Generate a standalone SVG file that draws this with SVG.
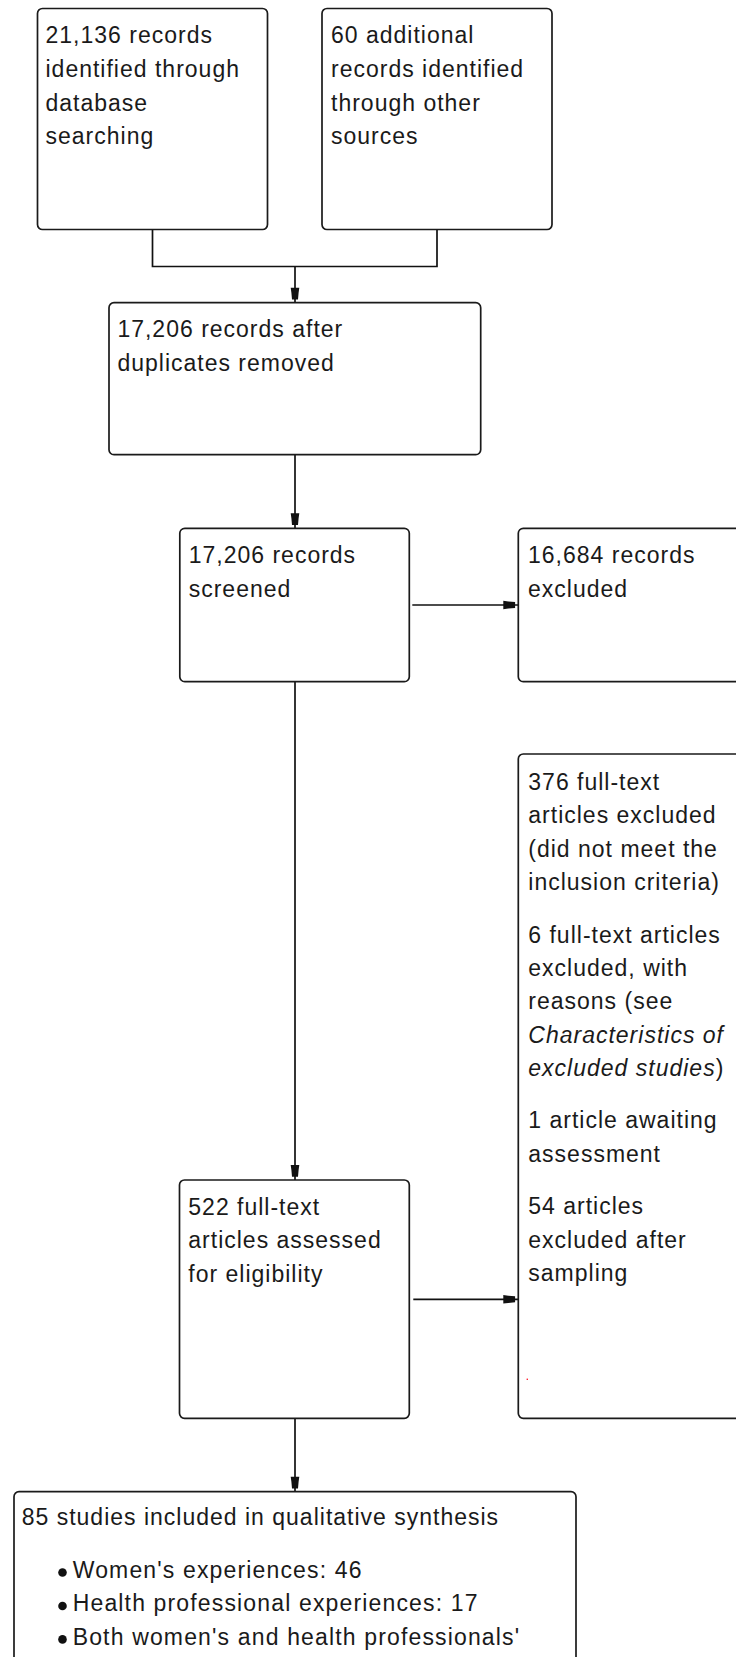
<svg xmlns="http://www.w3.org/2000/svg" width="736" height="1657" viewBox="0 0 736 1657">
<style>
.box{fill:#fff;stroke:#1a1a1a;stroke-width:1.7}
.t{font-family:"Liberation Sans",Arial,sans-serif;font-size:23px;letter-spacing:1px;fill:#1a1a1a}
.b{letter-spacing:1.15px}
.i{font-style:italic}
.ln{fill:none;stroke:#111;stroke-width:1.7}
</style>
<defs>
<marker id="ah" markerUnits="userSpaceOnUse" orient="auto" refX="0" refY="0" markerWidth="20" markerHeight="20" viewBox="-20 -10 20 20" overflow="visible">
<path d="M-15,-4.3 L-10,-3.6 L-3.2,-3 L-3.2,3 L-10,3.6 L-15,4.3 Z" fill="#111"/>
</marker>
</defs>
<g id="connectors">
<path class="ln" d="M152.5,229.5 V266.5 H437 V229.5"/>
<path class="ln" d="M295,266.5 V302.7" marker-end="url(#ah)"/>
<path class="ln" d="M295,454.7 V528.3" marker-end="url(#ah)"/>
<path class="ln" d="M412.3,605 H518.3" marker-end="url(#ah)"/>
<path class="ln" d="M295,681.7 V1180" marker-end="url(#ah)"/>
<path class="ln" d="M413.3,1299.3 H518.3" marker-end="url(#ah)"/>
<path class="ln" d="M295,1418.3 V1491.7" marker-end="url(#ah)"/>
</g>
<g id="node-db">
<rect class="box" x="37.5" y="8.5" width="230" height="221" rx="5"/>
<text class="t"><tspan x="45.5" y="43.3">21,136 records</tspan><tspan x="45.5" y="77">identified through</tspan><tspan x="45.5" y="110.7">database</tspan><tspan x="45.5" y="144.4">searching</tspan></text>
</g>
<g id="node-other">
<rect class="box" x="322" y="8.5" width="230" height="221" rx="5"/>
<text class="t"><tspan x="331" y="43.3">60 additional</tspan><tspan x="331" y="77">records identified</tspan><tspan x="331" y="110.7">through other</tspan><tspan x="331" y="144.4">sources</tspan></text>
</g>
<g id="node-dedup">
<rect class="box" x="109" y="302.7" width="371.7" height="152" rx="5"/>
<text class="t"><tspan x="117.4" y="337.3">17,206 records after</tspan><tspan x="117.4" y="370.7">duplicates removed</tspan></text>
</g>
<g id="node-screened">
<rect class="box" x="179.8" y="528.3" width="229.5" height="153.4" rx="5"/>
<text class="t"><tspan x="188.7" y="563.3">17,206 records</tspan><tspan x="188.7" y="596.7">screened</tspan></text>
</g>
<g id="node-excluded">
<rect class="box" x="518.3" y="528.3" width="240" height="153.4" rx="5"/>
<text class="t"><tspan x="528" y="563.3">16,684 records</tspan><tspan x="528" y="596.7">excluded</tspan></text>
</g>
<g id="node-fulltext-excluded">
<rect class="box" x="518.3" y="754" width="240" height="664.3" rx="5"/>
<text class="t">
<tspan x="528.3" y="790">376 full-text</tspan>
<tspan x="528.3" y="823.4">articles excluded</tspan>
<tspan x="528.3" y="856.8">(did not meet the</tspan>
<tspan x="528.3" y="890.2">inclusion criteria)</tspan>
<tspan x="528.3" y="942.5">6 full-text articles</tspan>
<tspan x="528.3" y="975.9">excluded, with</tspan>
<tspan x="528.3" y="1009.3">reasons (see</tspan>
<tspan x="528.3" y="1042.7" class="i">Characteristics of</tspan>
<tspan x="528.3" y="1076.1" class="i">excluded studies</tspan><tspan>)</tspan>
<tspan x="528.3" y="1128.4">1 article awaiting</tspan>
<tspan x="528.3" y="1161.8">assessment</tspan>
<tspan x="528.3" y="1214.1">54 articles</tspan>
<tspan x="528.3" y="1247.5">excluded after</tspan>
<tspan x="528.3" y="1280.9">sampling</tspan>
</text>
<rect x="526.6" y="1378.6" width="1.4" height="1.4" fill="#f23"/>
</g>
<g id="node-assessed">
<rect class="box" x="179.5" y="1180" width="229.8" height="238.3" rx="5"/>
<text class="t"><tspan x="188.3" y="1215">522 full-text</tspan><tspan x="188.3" y="1248.3">articles assessed</tspan><tspan x="188.3" y="1281.7">for eligibility</tspan></text>
</g>
<g id="node-included">
<rect class="box" x="14" y="1491.7" width="562" height="220" rx="5"/>
<text class="t"><tspan x="21.7" y="1525">85 studies included in qualitative synthesis</tspan></text>
<circle cx="62.5" cy="1572.5" r="4.3" fill="#111"/>
<circle cx="62.5" cy="1606" r="4.3" fill="#111"/>
<circle cx="62.5" cy="1639.4" r="4.3" fill="#111"/>
<text class="t b"><tspan x="72.7" y="1577.8">Women's experiences: 46</tspan><tspan x="72.7" y="1611.2">Health professional experiences: 17</tspan><tspan x="72.7" y="1644.6">Both women's and health professionals'</tspan></text>
</g>
</svg>
